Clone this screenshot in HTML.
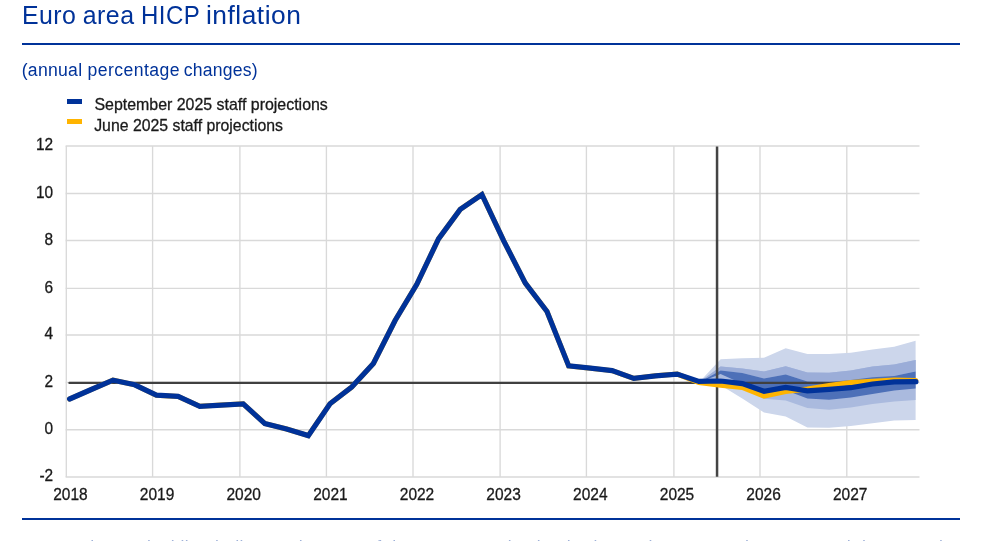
<!DOCTYPE html>
<html lang="en">
<head>
<meta charset="utf-8">
<title>Euro area HICP inflation</title>
<style>
html,body{margin:0;padding:0;background:#fff;}
body{width:990px;height:541px;overflow:hidden;position:relative;font-family:"Liberation Sans",Arial,sans-serif;}
.wrap{position:absolute;left:0;top:0;width:990px;height:541px;overflow:hidden;}
h3.title span{position:absolute;top:0;transform-origin:0 0;}
h3.title{position:absolute;left:22px;top:0;width:400px;height:30px;margin:0;font-weight:400;font-size:24.9px;line-height:30px;color:#003299;white-space:nowrap;letter-spacing:0.46px;}
.rule{position:absolute;left:22px;width:938px;height:2px;background:#003299;}
p.sub{position:absolute;left:21.7px;top:58px;margin:0;font-size:17.6px;line-height:24px;color:#003299;white-space:nowrap;letter-spacing:0.28px;}
p.notes{position:absolute;left:22px;top:535px;margin:0;width:938px;font-size:17.5px;line-height:24px;color:rgba(0,50,153,0.38);white-space:nowrap;letter-spacing:0.46px;}
p.notes i{font-style:normal;font-size:16.4px;}
svg{position:absolute;left:0;top:0;}
svg text{font-family:"Liberation Sans",Arial,sans-serif;font-size:16.4px;fill:#1a1a1a;stroke:#1a1a1a;stroke-width:0.3px;}
</style>
</head>
<body>
<div class="wrap">
<h3 class="title"><span style="left:0">Euro</span> <span style="left:60.8px">area</span> <span style="left:119.3px;transform:scaleX(0.965)">HICP</span> <span style="left:183.6px;transform:scaleX(1.06)">inflation</span></h3>
<div class="rule" style="top:43px"></div>
<p class="sub">(annual <span style="letter-spacing:0.43px">percentage</span> <span style="margin-left:-1.2px;letter-spacing:0.2px">changes)</span></p>
<svg width="990" height="541" viewBox="0 0 990 541">
<g stroke="#d9d9d9" stroke-width="1.35" fill="none"><line x1="66.30" y1="146" x2="66.30" y2="477"/><line x1="152.60" y1="146" x2="152.60" y2="477"/><line x1="239.90" y1="146" x2="239.90" y2="477"/><line x1="326.40" y1="146" x2="326.40" y2="477"/><line x1="413.00" y1="146" x2="413.00" y2="477"/><line x1="500.10" y1="146" x2="500.10" y2="477"/><line x1="586.40" y1="146" x2="586.40" y2="477"/><line x1="673.90" y1="146" x2="673.90" y2="477"/><line x1="760.00" y1="146" x2="760.00" y2="477"/><line x1="846.80" y1="146" x2="846.80" y2="477"/><line x1="65.6" y1="146.00" x2="919.5" y2="146.00"/><line x1="65.6" y1="193.50" x2="919.5" y2="193.50"/><line x1="65.6" y1="240.50" x2="919.5" y2="240.50"/><line x1="65.6" y1="288.40" x2="919.5" y2="288.40"/><line x1="65.6" y1="335.00" x2="919.5" y2="335.00"/><line x1="65.6" y1="382.50" x2="919.5" y2="382.50"/><line x1="65.6" y1="429.70" x2="919.5" y2="429.70"/><line x1="65.6" y1="477.00" x2="919.5" y2="477.00"/></g>
<rect x="67" y="99" width="15" height="5" fill="#003299"/>
<rect x="67" y="119" width="15" height="5" fill="#ffb400"/>
<text transform="translate(94.4,109.8) scale(0.972,1)">September 2025 staff projections</text>
<text transform="translate(94.2,131.2) scale(0.965,1)">June 2025 staff projections</text>
<g><text transform="translate(53.1,150.3) scale(0.94,1)" text-anchor="end">12</text><text transform="translate(53.1,197.8) scale(0.94,1)" text-anchor="end">10</text><text transform="translate(53.1,244.8) scale(0.94,1)" text-anchor="end">8</text><text transform="translate(53.1,292.7) scale(0.94,1)" text-anchor="end">6</text><text transform="translate(53.1,339.3) scale(0.94,1)" text-anchor="end">4</text><text transform="translate(53.1,386.8) scale(0.94,1)" text-anchor="end">2</text><text transform="translate(53.1,434.0) scale(0.94,1)" text-anchor="end">0</text><text transform="translate(53.1,481.3) scale(0.94,1)" text-anchor="end">-2</text></g>
<g><text transform="translate(70.4,500.4) scale(0.945,1)" text-anchor="middle">2018</text><text transform="translate(157.1,500.4) scale(0.945,1)" text-anchor="middle">2019</text><text transform="translate(243.7,500.4) scale(0.945,1)" text-anchor="middle">2020</text><text transform="translate(330.4,500.4) scale(0.945,1)" text-anchor="middle">2021</text><text transform="translate(417.0,500.4) scale(0.945,1)" text-anchor="middle">2022</text><text transform="translate(503.6,500.4) scale(0.945,1)" text-anchor="middle">2023</text><text transform="translate(590.3,500.4) scale(0.945,1)" text-anchor="middle">2024</text><text transform="translate(677.0,500.4) scale(0.945,1)" text-anchor="middle">2025</text><text transform="translate(763.6,500.4) scale(0.945,1)" text-anchor="middle">2026</text><text transform="translate(850.2,500.4) scale(0.945,1)" text-anchor="middle">2027</text></g>
<polygon points="698.9,382.4 720.6,359.2 742.3,358.2 764.0,357.8 785.7,348.2 807.4,354.0 829.1,354.0 850.8,352.8 872.5,349.5 894.2,346.8 915.6,340.8 915.6,420.0 894.2,420.5 872.5,423.3 850.8,426.1 829.1,427.8 807.4,427.5 785.7,416.5 764.0,412.5 742.3,398.5 720.6,385.2 698.9,382.4" fill="#ccd6eb"/>
<polygon points="698.9,382.4 720.6,366.5 742.3,368.5 764.0,371.5 785.7,366.3 807.4,372.5 829.1,372.8 850.8,370.5 872.5,366.6 894.2,364.5 915.6,359.9 915.6,400.0 894.2,401.5 872.5,404.1 850.8,407.5 829.1,409.8 807.4,408.0 785.7,400.5 764.0,398.8 742.3,388.2 720.6,378.0 698.9,382.4" fill="#aabade"/>
<polygon points="698.9,382.4 720.6,366.5 742.3,368.5 764.0,371.5 785.7,366.3 807.4,372.5 829.1,372.8 850.8,370.5 872.5,366.6 894.2,364.5 915.6,359.9 915.6,371.6 894.2,376.0 872.5,377.2 850.8,380.0 829.1,382.0 807.4,381.5 785.7,374.5 764.0,378.5 742.3,373.0 720.6,370.5 698.9,382.4" fill="#9badd8"/>
<polygon points="698.9,382.4 720.6,370.5 742.3,373.0 764.0,378.5 785.7,374.5 807.4,381.5 829.1,382.0 850.8,380.0 872.5,377.2 894.2,376.0 915.6,371.6 915.6,388.4 894.2,390.5 872.5,393.9 850.8,397.5 829.1,399.8 807.4,398.5 785.7,390.2 764.0,391.8 742.3,383.7 720.6,374.0 698.9,382.4" fill="#4d70b8"/>
<line x1="717.05" y1="146.5" x2="717.05" y2="476.8" stroke="#444" stroke-width="2.5"/>
<line x1="69.4" y1="382.9" x2="915" y2="382.9" stroke="#404040" stroke-width="2.2" stroke-linecap="round"/>
<polyline points="69.6,399.0 91.3,389.5 113.0,380.1 134.7,384.8 156.4,395.2 178.1,396.4 199.8,406.3 221.5,405.1 243.2,403.9 264.9,423.6 286.6,429.0 308.3,435.6 330.0,403.7 351.7,387.1 373.4,363.5 395.1,320.5 416.8,284.3 438.5,238.9 460.2,209.4 481.9,194.5 503.6,240.6 525.3,283.1 547.0,311.5 568.7,365.9 590.4,368.2 612.1,370.6 633.8,378.4 655.5,375.8 677.2,374.1 698.9,382.5 720.6,385.3 742.3,387.5 764.0,396.2 785.7,391.5 807.4,389.0 829.1,385.5 850.8,382.5 872.5,381.3 894.2,380.1 915.9,380.4" fill="none" stroke="#ffb400" stroke-width="5" stroke-linejoin="miter" stroke-linecap="round"/>
<polyline points="69.6,399.0 91.3,389.5 113.0,380.1 134.7,384.8 156.4,395.2 178.1,396.4 199.8,406.3 221.5,405.1 243.2,403.9 264.9,423.6 286.6,429.0 308.3,435.6 330.0,403.7 351.7,387.1 373.4,363.5 395.1,320.5 416.8,284.3 438.5,238.9 460.2,209.4 481.9,194.5 503.6,240.6 525.3,283.1 547.0,311.5 568.7,365.9 590.4,368.2 612.1,370.6 633.8,378.4 655.5,375.8 677.2,374.1 698.9,381.4 720.6,381.0 742.3,383.6 764.0,391.3 785.7,387.5 807.4,390.8 829.1,389.3 850.8,387.7 872.5,384.0 894.2,381.9 915.9,381.6" fill="none" stroke="#003299" stroke-width="5.2" stroke-linejoin="miter" stroke-linecap="round"/>
</svg>
<div class="rule" style="top:518px"></div>
<p class="notes"><i>N</i>otes: <i>T</i>he vertical line indicates the start of the current projection horizon. <i>T</i>he ranges shown around the central<br>projections provide a measure of the degree of uncertainty and are symmetric by construction.</p>
</div>
</body>
</html>
